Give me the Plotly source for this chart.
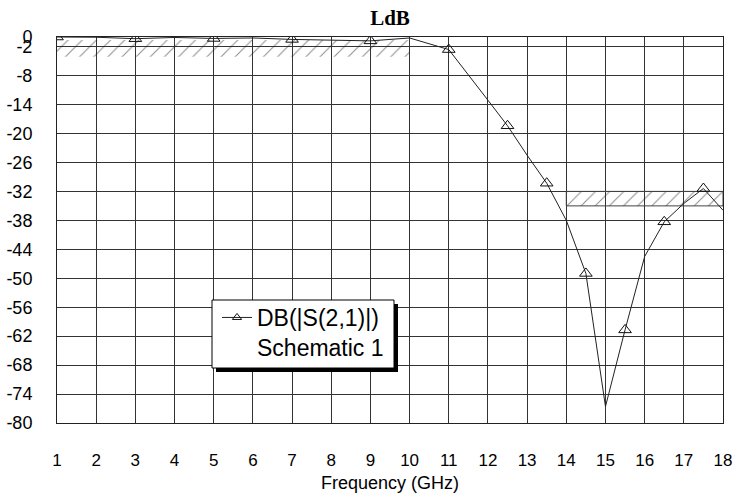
import plotly.graph_objects as go

# ---- data ----
freq_ghz = [1, 2, 3, 4, 5, 6, 7, 8, 9, 10, 11, 12, 12.5, 13, 13.5, 14, 14.5,
            15, 15.5, 16, 16.5, 17, 17.5, 18]
s21_db = [0.0, -0.05, -0.35, -0.1, -0.3, -0.2, -0.5, -0.6, -0.8, -0.2, -2.6,
          -13.1, -18.4, -24.5, -30.3, -38.0, -49.0, -76.6, -60.7, -45.5,
          -38.3, -34.5, -31.4, -35.9]
marker_freq_ghz = [1, 3, 5, 7, 9, 11, 12.5, 13.5, 14.5, 15.5, 16.5, 17.5]

# spec masks (hatched regions)
pass_mask_x = [1, 10]
pass_mask_y = [-0.6, -4.1]
stop_mask_x = [14, 18]
stop_mask_y = [-32, -35]

y_ticks = [0, -2, -8, -14, -20, -26, -32, -38, -44, -50, -56, -62, -68, -74, -80]
x_ticks = list(range(1, 19))

series_name = "DB(|S(2,1)|)<br>Schematic 1"
title_text = "LdB"
x_title = "Frequency (GHz)"

marker_db = [s21_db[freq_ghz.index(f)] for f in marker_freq_ghz]

# ---- figure ----
W, H = 733, 493
ML, MR, MT, MB = 57, 10, 37, 70
PW, PH = W - ML - MR, H - MT - MB

fig = go.Figure()

def mask_trace(xs, ys, border):
    x0, x1 = xs
    y0, y1 = ys
    return go.Scatter(
        x=[x1, x0, x0, x1, x1],
        y=[y0, y0, y1, y1, y0],
        mode="lines",
        fill="toself",
        fillcolor="rgba(0,0,0,0)",
        fillpattern=dict(shape="/", fgcolor="#1a1a1a", bgcolor="rgba(0,0,0,0)",
                         size=10, solidity=0.1),
        line=dict(color="#444444", width=1 if border else 0),
        hoverinfo="skip",
        showlegend=False,
    )

fig.add_trace(mask_trace(pass_mask_x, pass_mask_y, False))
fig.add_trace(mask_trace(stop_mask_x, stop_mask_y, True))

fig.add_trace(go.Scatter(
    x=freq_ghz, y=s21_db, mode="lines",
    line=dict(color="#222222", width=1),
    showlegend=False, hoverinfo="skip",
))
fig.add_trace(go.Scatter(
    x=marker_freq_ghz, y=marker_db, mode="markers",
    marker=dict(symbol="triangle-up-open", size=11, color="#111111",
                line=dict(width=1, color="#111111")),
    showlegend=False, cliponaxis=True,
))
# legend entry
fig.add_trace(go.Scatter(
    x=[None], y=[None], mode="lines+markers", name=series_name,
    line=dict(color="#222222", width=1),
    marker=dict(symbol="triangle-up-open", size=8, color="#111111",
                line=dict(width=1, color="#111111")),
))

def px2paper_x(px):
    return (px - ML) / PW
def px2paper_y(py):
    return (H - MB - py) / PH

# legend frame (box + drop shadow), in pixels
BOX = (212, 300, 394, 368)
SH = 4
fig.add_shape(type="rect", xref="paper", yref="paper",
              x0=px2paper_x(BOX[0] + SH), x1=px2paper_x(BOX[2] + SH),
              y0=px2paper_y(BOX[3] + SH), y1=px2paper_y(BOX[1] + SH),
              fillcolor="black", line=dict(width=0), layer="above")
fig.add_shape(type="rect", xref="paper", yref="paper",
              x0=px2paper_x(BOX[0]), x1=px2paper_x(BOX[2]),
              y0=px2paper_y(BOX[3]), y1=px2paper_y(BOX[1]),
              fillcolor="white", line=dict(width=1, color="black"), layer="above")

font_family = "Arial, Liberation Sans, sans-serif"

fig.update_layout(
    width=W, height=H,
    margin=dict(l=ML, r=MR, t=MT, b=MB, autoexpand=False),
    paper_bgcolor="white", plot_bgcolor="white",
    title=dict(text="<b>" + title_text + "</b>", x=px2paper_x(390), xref="paper",
               xanchor="center", y=1 - 18 / H, yanchor="middle",
               font=dict(family="Liberation Serif, Times New Roman, serif",
                         size=21, color="black")),
    legend=dict(x=px2paper_x(217), y=px2paper_y(296), xanchor="left", yanchor="top",
                bgcolor="rgba(0,0,0,0)", borderwidth=0,
                font=dict(family=font_family, size=23, color="black"),
                valign="top", itemwidth=30),
    font=dict(family=font_family, color="black"),
)

fig.update_xaxes(
    range=[1, 18], tickvals=x_ticks, ticktext=[str(v) for v in x_ticks],
    showgrid=True, gridcolor="#333333", gridwidth=1, automargin=False,
    zeroline=False, showline=True, linecolor="#222222", linewidth=1, mirror=True,
    ticks="", ticklabelstandoff=22,
    tickfont=dict(family=font_family, size=17, color="black"),
    title=dict(text=x_title, font=dict(family=font_family, size=18, color="black"),
               standoff=8),
)
fig.update_yaxes(
    range=[-80, 0], tickvals=y_ticks, ticktext=[str(v) for v in y_ticks],
    showgrid=True, gridcolor="#333333", gridwidth=1, automargin=False,
    zeroline=False, showline=True, linecolor="#222222", linewidth=1, mirror=True,
    ticks="", ticklabelstandoff=20,
    tickfont=dict(family=font_family, size=18, color="black"),
)

fig.write_html("out.html", post_script="document.body.style.margin='0';",
               config={"displayModeBar": False})
